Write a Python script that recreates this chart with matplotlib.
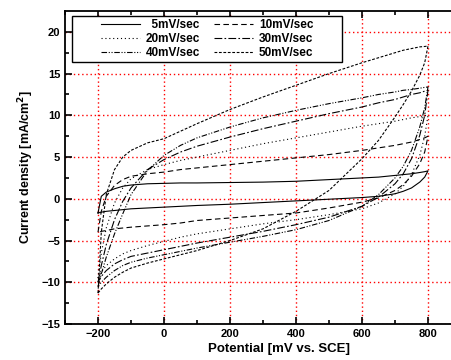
# Cyclic voltammograms at different scan rates

import matplotlib.pyplot as plt
import numpy as np
from matplotlib.patches import Rectangle

plt.rcParams['font.family'] = ['Liberation Sans', 'DejaVu Sans']
plt.rcParams['font.weight'] = 'bold'

E = [-200, -190, -175, -150, -125, -100, -50, 0, 50, 100, 200, 300, 400,
     500, 600, 650, 700, 725, 750, 775, 790, 800]

labels = ['\u20075mV/sec', '10mV/sec', '20mV/sec', '30mV/sec', '40mV/sec', '50mV/sec']

# anodic (upper) branch, read left to right
up5 = [-1.7, 0.3, 0.8, 1.2, 1.5, 1.65, 1.8, 1.85, 1.9, 1.9, 1.95, 2.0, 2.1,
       2.3, 2.5, 2.6, 2.8, 2.9, 3.0, 3.15, 3.25, 3.35]
up10 = [-4.0, -1.5, 0.3, 1.6, 2.3, 2.7, 3.0, 3.2, 3.5, 3.7, 4.1, 4.5, 4.9,
        5.3, 5.8, 6.1, 6.4, 6.6, 6.8, 7.1, 7.3, 7.5]
up20 = [-9.5, -6.5, -3.5, -0.5, 1.3, 2.4, 3.5, 4.1, 4.6, 5.0, 5.8, 6.6, 7.3,
        8.0, 8.7, 9.0, 9.3, 9.5, 9.7, 9.85, 9.95, 10.0]
up30 = [-10.0, -8.0, -5.5, -2.5, -0.3, 1.3, 3.5, 4.7, 5.6, 6.3, 7.4, 8.4, 9.3,
        10.2, 11.0, 11.5, 11.9, 12.2, 12.5, 12.7, 12.9, 13.0]
up40 = [-10.5, -9.0, -7.0, -4.2, -1.8, 0.5, 3.4, 5.2, 6.4, 7.3, 8.6, 9.7, 10.6,
        11.4, 12.1, 12.5, 12.8, 13.0, 13.1, 13.25, 13.35, 13.4]
up50 = [-11.3, -4.0, 0.5, 3.5, 5.0, 5.8, 6.7, 7.2, 8.1, 9.0, 10.7, 12.2, 13.6,
        15.0, 16.3, 16.9, 17.5, 17.8, 18.0, 18.2, 18.25, 18.3]

# cathodic (lower) branch, read left to right
lo5 = [-1.7, -1.6, -1.5, -1.4, -1.3, -1.2, -1.1, -1.0, -0.9, -0.8, -0.65, -0.45, -0.25,
       -0.05, 0.15, 0.3, 0.6, 0.9, 1.3, 2.0, 2.6, 3.35]
lo10 = [-4.0, -3.9, -3.8, -3.6, -3.5, -3.4, -3.25, -3.1, -2.9, -2.6, -2.3, -2.0, -1.7,
        -1.1, -0.4, 0.1, 1.0, 1.7, 2.7, 4.2, 5.6, 7.5]
lo20 = [-9.5, -8.8, -8.0, -7.2, -6.6, -6.2, -5.6, -5.1, -4.6, -4.2, -3.6, -3.0, -2.5,
        -1.9, -1.2, -0.5, 0.6, 1.5, 2.9, 5.2, 7.5, 10.0]
lo30 = [-10.0, -9.3, -8.6, -7.8, -7.3, -6.9, -6.5, -6.1, -5.7, -5.3, -4.6, -3.9, -3.1,
        -2.2, -0.9, 0.2, 1.8, 3.0, 4.8, 7.6, 10.0, 13.0]
lo40 = [-10.5, -10.0, -9.4, -8.6, -8.0, -7.6, -7.1, -6.7, -6.3, -5.9, -5.2, -4.5, -3.7,
        -2.6, -0.9, 0.5, 2.5, 3.9, 5.8, 8.6, 10.9, 13.4]
lo50 = [-11.3, -10.8, -10.2, -9.4, -8.8, -8.3, -7.7, -7.2, -6.7, -6.2, -5.0, -3.6, -1.5,
        1.0, 4.8, 7.0, 9.8, 11.3, 12.9, 14.8, 16.3, 18.3]

uppers = [up5, up10, up20, up30, up40, up50]
lowers = [lo5, lo10, lo20, lo30, lo40, lo50]
styles = ['-', (0, (5, 3)), (0, (1, 2.5)), (0, (7, 2, 1.5, 2)),
          (0, (5, 1.5, 1, 1.5, 1, 1.5)), (0, (2.5, 1.5))]

fig = plt.figure(figsize=(4.52, 3.6), dpi=100)
# right edge of the axes runs off the picture, as in the original
ax = fig.add_axes([65/452, 36/360, 429/452, 313/360])

lines = []
for up, lo, ls, lab in zip(uppers, lowers, styles, labels):
    x = E + E[::-1]
    y = up + lo[::-1]
    ln, = ax.plot(x, y, color='black', lw=0.8, linestyle=ls, label=lab)
    lines.append(ln)

ax.set_xlim(-300, 1000)
ax.set_ylim(-15, 22.5)
ax.set_xticks(np.arange(-200, 801, 200))
ax.set_xticks(np.arange(-300, 1000, 100), minor=True)
ax.set_yticks(np.arange(-15, 21, 5))
ax.set_yticks(np.arange(-15, 22.5, 2.5), minor=True)
ax.tick_params(which='both', direction='in', top=True, right=True, width=1.2)
ax.tick_params(which='major', length=5, labelsize=8)
ax.tick_params(which='minor', length=3)
for s in ax.spines.values():
    s.set_linewidth(1.3)
ax.grid(True, which='major', color='red', linestyle=(0, (1, 2)), lw=1)

ax.set_xlabel('Potential [mV vs. SCE]', fontsize=9.5, fontweight='bold', labelpad=3)
ax.set_ylabel('Current density [mA/cm$^\\mathbf{2}$]', fontsize=9, fontweight='bold', labelpad=4)

# legend filled row by row: 5 10 / 20 30 / 40 50
order = [0, 2, 4, 1, 3, 5]
box = Rectangle((72/452, 1 - 62/360), 270/452, 46/360, transform=fig.transFigure,
                facecolor='white', edgecolor='black', lw=1.0, zorder=5)
ax.add_patch(box)
box.set_clip_on(False)
leg = ax.legend([lines[i] for i in order], [labels[i] for i in order], ncol=2,
                loc='center', bbox_to_anchor=(207/452, 1 - 39/360),
                bbox_transform=fig.transFigure, fontsize=8.5, frameon=False,
                handlelength=3.3, handletextpad=0.5, columnspacing=1.2,
                labelspacing=0.15, borderpad=0, borderaxespad=0)
leg.set_zorder(6)

plt.savefig('out.png', dpi=100)
